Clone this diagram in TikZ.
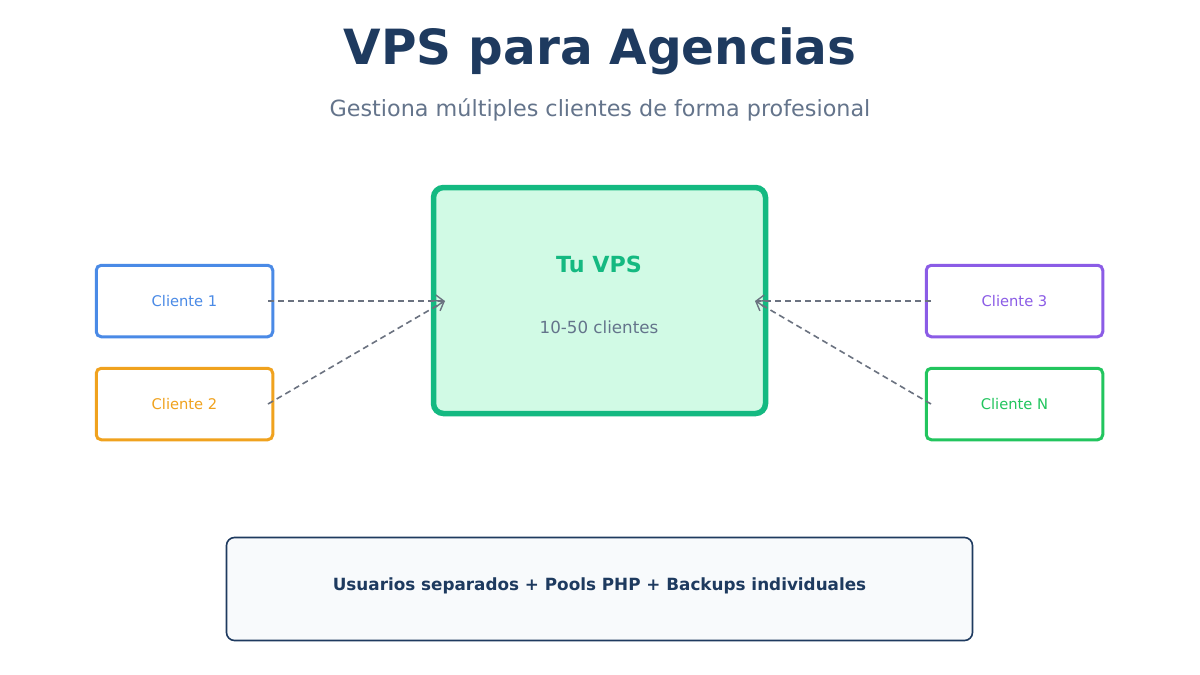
\documentclass[tikz,border=0pt]{standalone}
\usepackage{fontspec}
\setmainfont{DejaVu Sans}
\usetikzlibrary{arrows.meta}
\definecolor{navy}{HTML}{1E3A5F}
\definecolor{slate}{HTML}{64748B}
\definecolor{cblue}{HTML}{4A8AE6}
\definecolor{corange}{HTML}{F0A21E}
\definecolor{cpurple}{HTML}{8B5CE6}
\definecolor{cgreen}{HTML}{22C55E}
\definecolor{vgreen}{HTML}{14B981}
\definecolor{vfill}{HTML}{D1FAE5}
\definecolor{dgray}{HTML}{6B7280}
\definecolor{bfill}{HTML}{F8FAFC}
\tikzset{
  client/.style={draw=#1, text=#1, line width=3pt, rounded corners=5pt, minimum width=176.5pt, minimum height=71.5pt, inner sep=0pt, font=\fontsize{14.7}{17}\selectfont},
  link/.style={draw=dgray, line width=1.6pt, dash pattern=on 6pt off 4pt, -{Straight Barb[length=8pt,width=12pt,line width=1.4pt]}},
}
\begin{document}
\begin{tikzpicture}[x=1pt,y=-1pt]
\useasboundingbox (0,0) rectangle (1200,675);
\fill[white] (0,0) rectangle (1200,675);
\node[text=navy, font=\fontsize{48.5}{56}\selectfont\bfseries] (title) at (600,51) {VPS para Agencias};
\node[text=slate, font=\fontsize{22.3}{26}\selectfont] (sub) at (600,110) {Gestiona múltiples clientes de forma profesional};
\node[draw=vgreen, fill=vfill, line width=5.5pt, rounded corners=10pt, minimum width=332pt, minimum height=226pt] (vps) at (599.5,300.5) {};
\node[text=vgreen, font=\fontsize{22.2}{26}\selectfont\bfseries] (tu) at (599,264) {Tu VPS};
\node[text=slate, font=\fontsize{16.7}{19}\selectfont] (cnt) at (599,327) {10-50 clientes};
\node[client=cblue] (c1) at (184.5,301) {Cliente 1};
\node[client=corange] (c2) at (184.5,404) {Cliente 2};
\node[client=cpurple] (c3) at (1014.5,301) {Cliente 3};
\node[client=cgreen] (cn) at (1014.5,404) {Cliente N};
\coordinate (vl) at (445,301);
\coordinate (vr) at (755,301);
\coordinate (c1e) at (268,301);
\coordinate (c2e) at (268,404);
\coordinate (c3w) at (931,301);
\coordinate (cnw) at (931,404);
\draw[link] (c1e) -- (vl);
\draw[link] (c2e) -- (vl);
\draw[link] (c3w) -- (vr);
\draw[link] (cnw) -- (vr);
\node[draw=navy, fill=bfill, line width=1.6pt, rounded corners=8pt, minimum width=746pt, minimum height=103pt] (base) at (599.5,589) {};
\node[text=navy, font=\fontsize{16.8}{20}\selectfont\bfseries] (basetxt) at (599.5,586) {Usuarios separados + Pools PHP + Backups individuales};
\end{tikzpicture}
\end{document}
